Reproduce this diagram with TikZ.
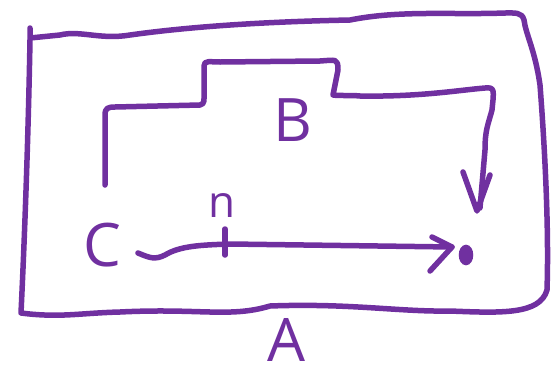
\documentclass[tikz,border=0pt]{standalone}
\usepackage{fontspec}
\setmainfont{Open Sans}
\usetikzlibrary{arrows.meta,shapes.geometric}
\definecolor{pen}{HTML}{7030A0}
\tikzset{
  ink/.style={draw=pen, line width=5.5pt, line cap=round, line join=round},
  letter/.style={text=pen, font=\fontsize{60}{60}\selectfont, inner sep=0pt},
  small/.style={text=pen, font=\fontsize{44}{44}\selectfont, inner sep=0pt}
}
\begin{document}
\begin{tikzpicture}[x=1pt,y=-1pt]
\useasboundingbox (0,0) rectangle (558,373);
% outer box A
\draw[ink] (30,28) -- (30,40) .. controls (28,150) and (24,250) .. (21,313)
  .. controls (60,318) and (80,313) .. (120,312)
  .. controls (200,308) and (230,318) .. (270,306)
  .. controls (350,303) and (400,312) .. (450,311)
  .. controls (500,313) and (540,315) .. (547,290)
  .. controls (549,230) and (545,150) .. (540,85)
  .. controls (535,50) and (526,35) .. (524,20)
  .. controls (522,12) and (515,13) .. (505,13)
  .. controls (450,15) and (400,10) .. (350,20)
  .. controls (250,22) and (180,28) .. (130,35)
  .. controls (100,40) and (80,30) .. (60,35) -- (30,38);
% inner path B
\coordinate (s) at (105,185);
\coordinate (e) at (480,208);
\draw[ink] (s) -- (105,115) .. controls (105,108) and (108,107) .. (115,107)
  -- (200,105) .. controls (205,104) and (204,100) .. (204,92) -- (204,66)
  .. controls (204,60) and (210,62) .. (220,62) -- (320,61)
  .. controls (336,60) and (338,58) .. (338,70) -- (333,95)
  .. controls (340,96) and (350,95) .. (360,96)
  .. controls (420,97) and (460,90) .. (485,88)
  .. controls (495,87) and (494,90) .. (492,110)
  .. controls (488,125) and (485,130) .. (485,150) -- (e);
\draw[ink] (463,172) -- (477,211) -- (490,175);
% labels
\node[letter] (B) at (293,120) {B};
\node[letter] (A) at (286,340) {A};
\node[letter] (C) at (102,245) {C};
\node[small] (n) at (222,206) {n};
% bottom arrow
\node[draw=pen, line width=4.5pt, ellipse, minimum width=10pt, minimum height=16pt, inner sep=0pt, fill=pen] (o) at (466,255) {};
\coordinate (t) at (452,247);
\draw[ink] (138,253) .. controls (150,258) and (155,260) .. (165,255)
  .. controls (180,246) and (200,245) .. (230,244) -- (t);
\draw[ink] (432,237) -- (t) -- (430,271);
\draw[ink] (225,229) -- (225,255);
\end{tikzpicture}
\end{document}
